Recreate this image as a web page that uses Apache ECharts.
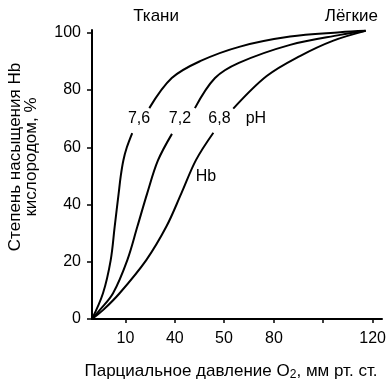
<!DOCTYPE html>
<html><head><meta charset="utf-8">
<script src="https://cdn.jsdelivr.net/npm/echarts@6/dist/echarts.min.js"></script>
<style>html,body{margin:0;padding:0;background:#fff}#c{width:390px;height:388px}</style>
</head><body><div id="c"></div>
<script>
// Axis ticks (x axis carries non-linear labels at evenly spaced ticks, as in the original)
const xTickValues = [14.3, 35.4, 56.4, 77.8, 98.8, 120];
const xTickLabels = ['10', '40', '50', '80', '', '120'];
const yTickValues = [0, 20, 40, 60, 80, 100];

// Curves (each split around its label)
const ph76Lower = [[0,0],[4.7,9.0],[8.0,20.6],[9.7,32.3],[11.4,43.9],[12.3,50.0],[13.4,55.4],[14.9,60.0],[17.2,65.0]];
const ph76Upper = [[24.5,73.7],[34.1,84.2],[46.2,90.1],[63.3,95.2],[84.7,98.7],[106.1,100.2],[117.0,100.7]];
const ph72Lower = [[0,0],[3.3,3.1],[9.0,9.0],[15.1,20.6],[19.4,32.3],[23.6,43.9],[28.2,55.4],[34.2,64.7]];
const ph72Upper = [[44.0,73.7],[52.6,84.2],[62.8,89.5],[84.7,95.8],[106.1,99.3],[117.0,100.7]];
const ph68Lower = [[0,0],[4.7,3.1],[11.8,9.0],[23.2,20.6],[31.8,32.3],[38.2,43.9],[44.5,55.6],[51.9,65.1]];
const ph68Upper = [[60.4,73.5],[74.7,84.9],[88.9,91.9],[103.2,97.3],[117.0,100.7]];

// Annotations in data units
const annoTexts = ['7,6', '7,2', '6,8', 'pH', 'Hb', 'Ткани', 'Лёгкие'];
const annoX = [20.1, 37.6, 54.5, 70.1, 48.7, 27.4, 110.9];
const annoY = [70.1, 70.1, 70.1, 70.1, 49.8, 105.7, 105.7];

const FONT = 'Liberation Sans, Arial, sans-serif';
const chart = echarts.init(document.getElementById('c'), null, {renderer: 'canvas'});

function curve(data) {
  return {
    type: 'line', data: data, smooth: 0.35, showSymbol: false, clip: false,
    lineStyle: {color: '#000', width: 2}, silent: true, animation: false
  };
}

chart.setOption({
  animation: false,
  backgroundColor: '#fff',
  grid: {left: 92, right: 8, top: 30, bottom: 69, containLabel: false},
  xAxis: {
    type: 'value', min: 0, max: 124,
    axisLine: {show: true, lineStyle: {color: '#000', width: 2}},
    axisTick: {show: true, length: 4, lineStyle: {color: '#000', width: 1.5}, customValues: xTickValues},
    axisLabel: {
      color: '#000', fontSize: 16, fontFamily: FONT, margin: 12,
      customValues: xTickValues,
      formatter: function (v) { const i = xTickValues.indexOf(v); return i >= 0 ? xTickLabels[i] : ''; }
    },
    splitLine: {show: false}
  },
  yAxis: {
    type: 'value', min: 0, max: 101,
    axisLine: {show: true, lineStyle: {color: '#000', width: 2}},
    axisTick: {show: true, length: 5, lineStyle: {color: '#000', width: 1.5}, customValues: yTickValues},
    axisLabel: {color: '#000', fontSize: 16, fontFamily: FONT, margin: 11, customValues: yTickValues},
    splitLine: {show: false}
  },
  series: [curve(ph76Lower), curve(ph76Upper), curve(ph72Lower), curve(ph72Upper), curve(ph68Lower), curve(ph68Upper)]
});

const graphics = annoTexts.map(function (t, i) {
  const p = chart.convertToPixel({gridIndex: 0}, [annoX[i], annoY[i]]);
  return {
    type: 'text', x: p[0], y: p[1],
    style: {text: t, fill: '#000', font: (i >= 5 ? '17px ' : '16px ') + FONT, align: 'center', verticalAlign: 'middle'}
  };
});
graphics.push({
  type: 'text', x: 23, y: 157, rotation: Math.PI / 2,
  style: {text: 'Степень насыщения Hb\nкислородом, %', fill: '#000', font: '17px ' + FONT,
          align: 'center', verticalAlign: 'middle', lineHeight: 16}
});
graphics.push({
  type: 'text', x: 231, y: 371,
  style: {
    text: 'Парциальное давление O{sub|2}, мм рт. ст.', fill: '#000', font: '17px ' + FONT,
    align: 'center', verticalAlign: 'middle',
    rich: {sub: {fontSize: 12, fontFamily: FONT, fill: '#000', padding: [7, 0, 0, 0]}}
  }
});
chart.setOption({graphic: graphics});
</script></body></html>
